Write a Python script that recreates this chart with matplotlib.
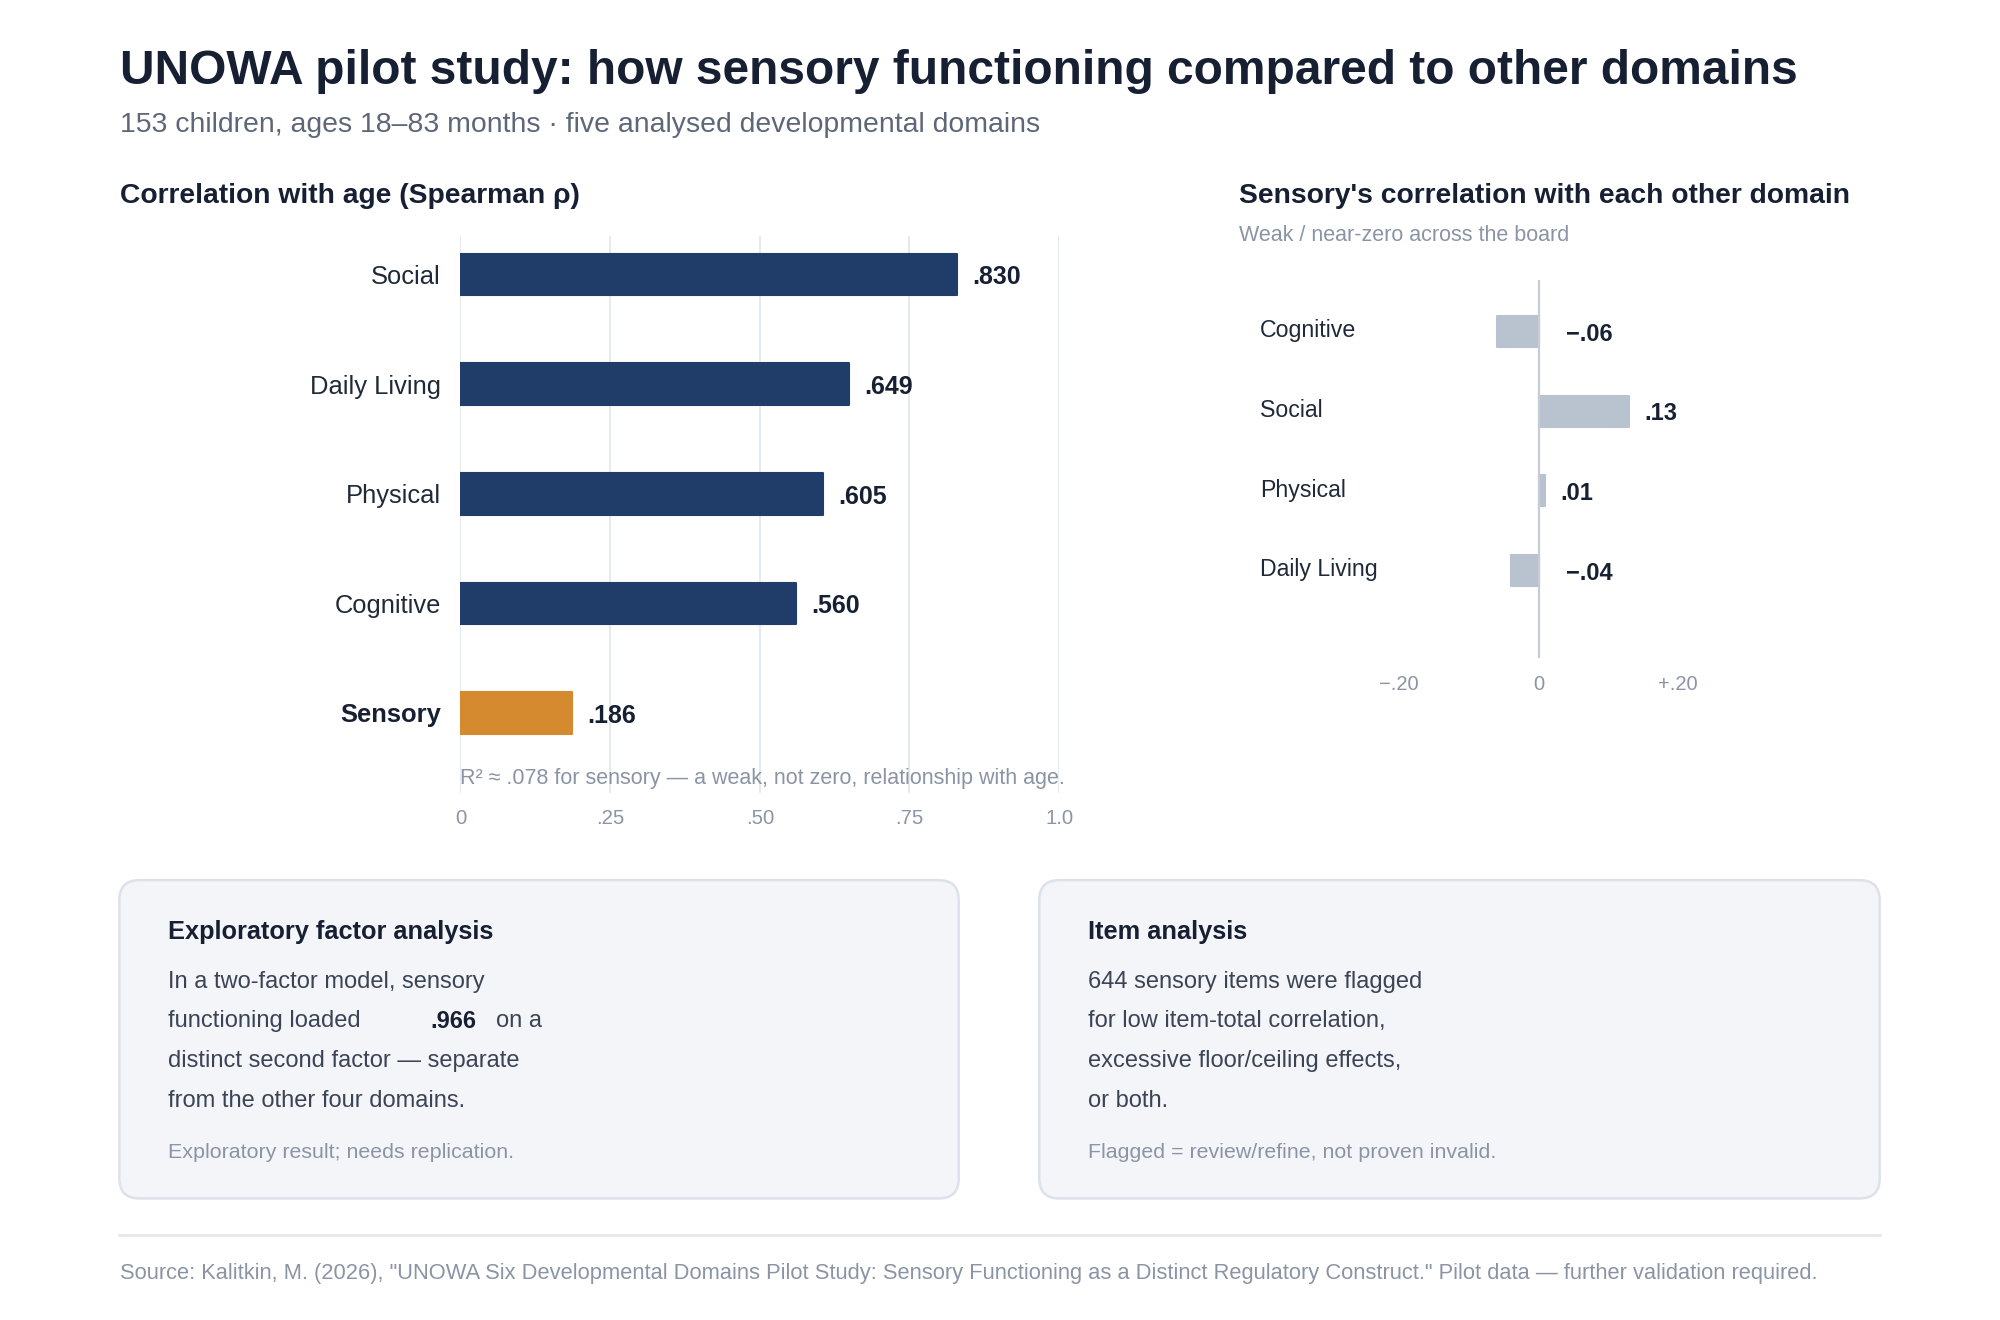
import matplotlib
matplotlib.use("Agg")
import matplotlib.pyplot as plt
from matplotlib.patches import FancyBboxPatch

plt.rcParams["font.family"] = ["Liberation Sans", "DejaVu Sans"]

W, H = 2000, 1320
# layout coordinates were measured on a slightly smaller grid
LW, LH = W * 1.0055, H * 1.0055

AGE_DOMAINS = ["Social", "Daily Living", "Physical", "Cognitive", "Sensory"]
AGE_RHO = [0.830, 0.649, 0.605, 0.560, 0.186]
AGE_TICKS = [0, 0.25, 0.50, 0.75, 1.0]
AGE_TICK_LABELS = ["0", ".25", ".50", ".75", "1.0"]

SENS_DOMAINS = ["Cognitive", "Social", "Physical", "Daily Living"]
SENS_R = [-0.06, 0.13, 0.01, -0.04]
SENS_TICKS = [-0.20, 0, 0.20]
SENS_TICK_LABELS = ["\u2212.20", "0", "+.20"]

INK = "#172033"
BODY = "#3b4454"
MUTED = "#8b94a5"
NAVY = "#203c69"
ORANGE = "#d58a2f"
SLATE = "#b9c3cf"
GRID = "#e3e7ef"


def fmt(v, places):
    s = f"{abs(v):.{places}f}".lstrip("0")
    return ("\u2212" if v < 0 else "") + s


def rect(x0, y0, x1, y1):
    # layout box (top-left origin) -> figure fraction
    return [x0 / LW, 1 - y1 / LH, (x1 - x0) / LW, (y1 - y0) / LH]


fig = plt.figure(figsize=(W / 100, H / 100), dpi=100, facecolor="white")

canvas = fig.add_axes([0, 0, 1, 1], zorder=0)
canvas.set_xlim(0, LW)
canvas.set_ylim(LH, 0)
canvas.axis("off")

canvas.text(121, 72, "UNOWA pilot study: how sensory functioning compared to other domains",
            fontsize=34.5, fontweight="bold", color=INK, va="center")
canvas.text(121, 126, "153 children, ages 18\u201383 months \u00b7 five analysed developmental domains",
            fontsize=20.4, color="#5e6778", va="center")
canvas.text(121, 197.5, "Correlation with age (Spearman \u03c1)", fontsize=20.3, fontweight="bold",
            color=INK, va="center")
canvas.text(1246, 197.5, "Sensory's correlation with each other domain", fontsize=20.3,
            fontweight="bold", color=INK, va="center")
canvas.text(1246, 237, "Weak / near-zero across the board", fontsize=15.5, color=MUTED, va="center")

# --- left: correlation with age ---
ax = fig.add_axes(rect(463, 237, 1065, 797), zorder=1)
ax.patch.set_alpha(0)
ypos = list(range(len(AGE_DOMAINS)))
colors = [ORANGE if d == "Sensory" else NAVY for d in AGE_DOMAINS]
ax.barh(ypos, AGE_RHO, height=0.38, color=colors, edgecolor=colors, linewidth=1.5,
        joinstyle="round", zorder=2)
for y, v in zip(ypos, AGE_RHO):
    ax.annotate(fmt(v, 3), xy=(v, y), xytext=(11, -2), textcoords="offset points",
                fontsize=18, fontweight="bold", color=INK, va="center", ha="left")
ax.set_xlim(0, 1.0)
ax.set_ylim(4 + 80 / 110, -39 / 110)
ax.set_xticks(AGE_TICKS, AGE_TICK_LABELS)
ax.set_yticks(ypos, AGE_DOMAINS)
ax.tick_params(axis="x", length=0, pad=11.5, labelsize=14.7, labelcolor=MUTED)
ax.tick_params(axis="y", length=0, pad=14, labelsize=18.4, labelcolor="#1f2937")
for lab in ax.get_yticklabels():
    if lab.get_text() == "Sensory":
        lab.set_fontweight("bold")
        lab.set_color(INK)
ax.grid(axis="x", color=GRID, linewidth=1.3, zorder=0)
for s in ax.spines.values():
    s.set_visible(False)
ax.text(0, 4 + 66 / 110, "R\u00b2 \u2248 .078 for sensory \u2014 a weak, not zero, relationship with age.",
        fontsize=15.5, color=MUTED, va="center", ha="left", zorder=3)

# --- right: sensory vs other domains ---
ax2 = fig.add_axes(rect(1337, 282, 1757, 662), zorder=1)
ax2.patch.set_alpha(0)
ypos2 = list(range(len(SENS_DOMAINS)))
ax2.barh(ypos2, SENS_R, height=0.39, color=SLATE, edgecolor=SLATE, linewidth=1.5,
         joinstyle="round", zorder=2)
ax2.axvline(0, color="#c5ccd6", linewidth=1.6, zorder=3)
for y, v, name in zip(ypos2, SENS_R, SENS_DOMAINS):
    off = 11 if v >= 0 else 20
    ax2.annotate(fmt(v, 2), xy=(max(v, 0), y), xytext=(off, -2), textcoords="offset points",
                 fontsize=17, fontweight="bold", color=INK, va="center", ha="left")
    ax2.text(-0.4, y - 0.01, name, fontsize=16.7, color="#1f2937", va="center", ha="left",
             clip_on=False)
ax2.set_xlim(-0.3, 0.3)
ax2.set_ylim(3 + 88 / 80, -51 / 80)
ax2.set_xticks(SENS_TICKS, SENS_TICK_LABELS)
ax2.set_yticks([])
ax2.tick_params(axis="x", length=0, pad=12, labelsize=14.5, labelcolor=MUTED)
for s in ax2.spines.values():
    s.set_visible(False)

# --- note cards ---
cards = [
    (120, 964, "Exploratory factor analysis",
     ["In a two-factor model, sensory", None,
      "distinct second factor \u2014 separate", "from the other four domains."],
     "Exploratory result; needs replication."),
    (1045, 1890, "Item analysis",
     ["644 sensory items were flagged", "for low item-total correlation,",
      "excessive floor/ceiling effects,", "or both."],
     "Flagged = review/refine, not proven invalid."),
]
line_y = [987, 1027, 1067, 1107]
for x0, x1, head, lines, foot in cards:
    box = FancyBboxPatch((x0, 885), x1 - x0, 320, boxstyle="round,pad=0,rounding_size=20",
                         facecolor="#f4f5f9", edgecolor="#dde2ea", linewidth=1.8)
    canvas.add_patch(box)
    tx = x0 + 49
    canvas.text(tx, 937, head, fontsize=18.3, fontweight="bold", color=INK, va="center")
    for y, ln in zip(line_y, lines):
        if ln is None:
            canvas.text(tx, y, "functioning loaded", fontsize=17, color=BODY, va="center")
            canvas.text(433, y, ".966", fontsize=17, fontweight="bold", color=INK, va="center")
            canvas.text(499, y, "on a", fontsize=17, color=BODY, va="center")
        else:
            canvas.text(tx, y, ln, fontsize=17, color=BODY, va="center")
    canvas.text(tx, 1159, foot, fontsize=15.4, color=MUTED, va="center")

canvas.plot([120, 1890], [1242, 1242], color="#e3e6eb", linewidth=1.8)
canvas.text(121, 1281,
            "Source: Kalitkin, M. (2026), \"UNOWA Six Developmental Domains Pilot Study: Sensory "
            "Functioning as a Distinct Regulatory Construct.\" Pilot data \u2014 further validation required.",
            fontsize=15.75, color=MUTED, va="center")

fig.savefig("out.png", dpi=100, facecolor="white")
